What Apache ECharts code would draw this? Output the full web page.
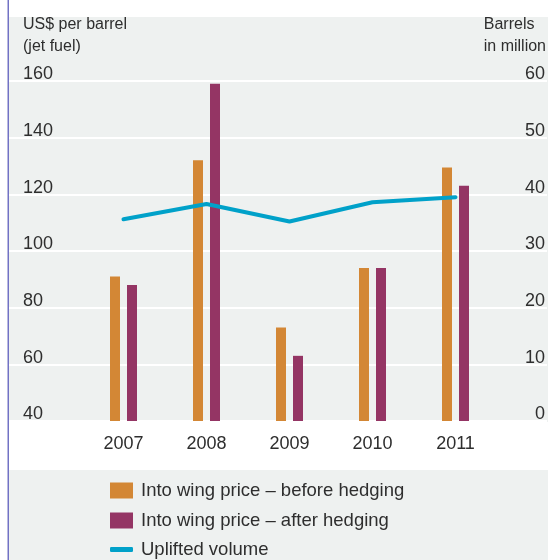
<!DOCTYPE html>
<html>
<head>
<meta charset="utf-8">
<script src="https://cdn.jsdelivr.net/npm/echarts@6/dist/echarts.min.js"></script>
<style>
  html, body { margin: 0; padding: 0; background: #ffffff; }
  #chart { width: 548px; height: 560px; }
</style>
</head>
<body>
<div id="chart"></div>
<script>
// Jet fuel prices before/after hedging and uplifted volume, 2007–2011
const years = ['2007', '2008', '2009', '2010', '2011'];
const priceBeforeHedging = [91, 132, 73, 94, 129.5];
const priceAfterHedging = [88, 159, 63, 94, 123];
const upliftedVolume = [35.6, 38.3, 35.2, 38.6, 39.5];

const priceTicks = { min: 40, max: 160, interval: 20 };
const volumeTicks = { min: 0, max: 60, interval: 10 };

const seriesNames = [
  'Into wing price – before hedging',
  'Into wing price – after hedging',
  'Uplifted volume'
];

const FONT = '"Liberation Sans", Arial, sans-serif';
const TEXT = '#2e2e2e';
const PANEL = '#eef1f0';
const ORANGE = '#d38735';
const PURPLE = '#943564';
const BLUE = '#00a1c9';

const chart = echarts.init(document.getElementById('chart'), null, { renderer: 'canvas' });

const plotTop = 81;
const plotBottom = 560 - 421;

// one legend block per series, stacked in rows 30px apart
function legendRow(i, extra) {
  return Object.assign({
    orient: 'vertical',
    left: 110, top: 481 + i * 30,
    padding: 0,
    itemWidth: 23, itemHeight: 16,
    data: [{ name: seriesNames[i], icon: 'rect' }],
    textStyle: { fontSize: 18.5, color: TEXT, fontFamily: FONT, padding: [0, 0, 0, 3] },
    selectedMode: false
  }, extra || {});
}

// tick labels sit just above their gridline
const tickLabel = {
  inside: true, fontSize: 18, color: TEXT, fontFamily: FONT,
  verticalAlign: 'bottom', lineHeight: 13
};

chart.setOption({
  animation: false,
  backgroundColor: '#ffffff',
  textStyle: { fontFamily: FONT, color: TEXT },
  graphic: [
    // upper panel behind the plot
    { type: 'rect', z: -10, shape: { x: 9, y: 17, width: 539, height: 405 }, style: { fill: PANEL } },
    // lower panel behind the legend
    { type: 'rect', z: -10, shape: { x: 9, y: 470, width: 539, height: 90 }, style: { fill: PANEL } },
    // left rule
    { type: 'rect', z: -9, shape: { x: 7.5, y: 0, width: 1.5, height: 560 }, style: { fill: '#7272c4' } },
    {
      type: 'text', left: 23, top: 14,
      style: { text: 'US$ per barrel\n(jet fuel)', font: '16px ' + FONT, fill: TEXT, lineHeight: 22 }
    },
    {
      type: 'text', right: 2, top: 14,
      style: { text: 'Barrels\nin million', font: '16px ' + FONT, fill: TEXT, lineHeight: 22, align: 'right' }
    }
  ],
  grid: [
    // full-width grid carrying gridlines and tick labels
    { left: 9, right: 0, top: plotTop, bottom: plotBottom, containLabel: false },
    // plotting grid for bars and line
    { left: 82, right: 51, top: plotTop, bottom: plotBottom, containLabel: false }
  ],
  xAxis: [
    { gridIndex: 0, type: 'category', data: years, show: false },
    {
      gridIndex: 1, type: 'category', data: years,
      axisLine: { show: false }, axisTick: { show: false },
      axisLabel: { fontSize: 18, color: TEXT, margin: 14, fontFamily: FONT }
    }
  ],
  yAxis: [
    {
      gridIndex: 0, type: 'value', position: 'left',
      min: priceTicks.min, max: priceTicks.max, interval: priceTicks.interval,
      axisLine: { show: false }, axisTick: { show: false },
      splitLine: { show: true, lineStyle: { color: '#ffffff', width: 2 } },
      axisLabel: Object.assign({ margin: 14 }, tickLabel)
    },
    {
      gridIndex: 0, type: 'value', position: 'right',
      min: volumeTicks.min, max: volumeTicks.max, interval: volumeTicks.interval,
      axisLine: { show: false }, axisTick: { show: false }, splitLine: { show: false },
      axisLabel: Object.assign({ margin: 2 }, tickLabel)
    },
    {
      gridIndex: 1, type: 'value', show: false,
      min: priceTicks.min, max: priceTicks.max, interval: priceTicks.interval,
      splitLine: { show: false }
    },
    {
      gridIndex: 1, type: 'value', show: false,
      min: volumeTicks.min, max: volumeTicks.max, interval: volumeTicks.interval,
      splitLine: { show: false }
    }
  ],
  legend: [
    legendRow(0),
    legendRow(1),
    legendRow(2, {
      top: 540,
      itemHeight: 5,
      data: [{ name: seriesNames[2], icon: 'roundRect' }]
    })
  ],
  series: [
    {
      name: seriesNames[0], type: 'bar', xAxisIndex: 1, yAxisIndex: 2,
      data: priceBeforeHedging, barWidth: 10, barGap: '70%',
      itemStyle: { color: ORANGE }
    },
    {
      name: seriesNames[1], type: 'bar', xAxisIndex: 1, yAxisIndex: 2,
      data: priceAfterHedging, barWidth: 10,
      itemStyle: { color: PURPLE }
    },
    {
      name: seriesNames[2], type: 'line', xAxisIndex: 1, yAxisIndex: 3,
      data: upliftedVolume, symbol: 'none', z: 3,
      lineStyle: { color: BLUE, width: 4, cap: 'round', join: 'round' },
      itemStyle: { color: BLUE }
    }
  ]
});
</script>
</body>
</html>
